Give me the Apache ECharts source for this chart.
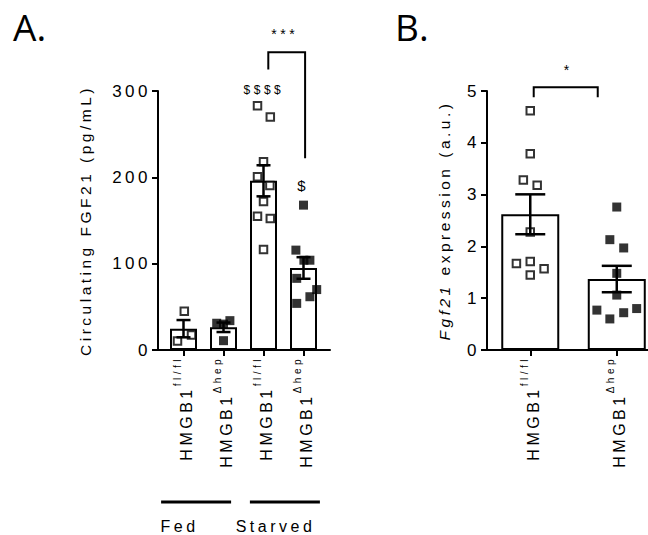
<!DOCTYPE html>
<html>
<head>
<meta charset="utf-8">
<title>Circulating FGF21 / Fgf21 expression</title>
<script src="https://cdn.jsdelivr.net/npm/echarts@6/dist/echarts.min.js"></script>
<style>
  body { margin: 0; background: #fff; }
  /* the figure uses widely tracked Arial text */
  #main text { letter-spacing: 3.5px; }
</style>
</head>
<body>
<div id="main" style="width:648px;height:535px;"></div>
<script>
// ---- panel A : circulating FGF21 (pg/mL)
var baseLabel = 'HMGB1';
var supA = ['fl/fl', 'Δhep', 'fl/fl', 'Δhep'];
var meanA = [24.7, 26.3, 196, 95];
var semA = [10, 5.5, 18, 12.5];
var openA = [true, false, true, false];
var ptsA = [
  [45, 17.4, 10.4],
  [31, 34, 30, 10.8],
  [283, 270, 218, 200.6, 190.6, 172, 155, 152.4, 116.5],
  [167.8, 115.7, 104, 104, 83, 70, 61.7, 54]
];
var jitA = [
  [0.02, 0.2, -0.15],
  [-0.17, 0.16, 0, 0],
  [-0.15, 0.17, 0, -0.15, 0.16, 0, -0.15, 0.17, 0],
  [0, -0.19, 0.01, 0.16, -0.17, 0.33, 0.16, -0.17]
];
var groupsA = [
  { name: 'Fed', from: -0.56, to: 1.19, mid: -0.1 },
  { name: 'Starved', from: 1.66, to: 3.41, mid: 2.3 }
];
var bracketA = [2.12, 3.04, 345, 325, 222];   // x1, x2, top, left end, right end
var marksA = [
  ['***', 2.53, 366, 14],
  ['$$$$', 2.01, 301, 12],
  ['$', 2.99, 191, 15]
];

// ---- panel B : Fgf21 expression (a.u.)
var supB = ['fl/fl', 'Δhep'];
var meanB = [2.62, 1.37];
var semB = [0.385, 0.255];
var openB = [true, false];
var ptsB = [
  [4.62, 3.79, 3.28, 3.18, 2.28, 1.67, 1.71, 1.57, 1.45],
  [2.76, 2.13, 1.97, 1.48, 1.06, 0.77, 0.72, 0.80, 0.60]
];
var jitB = [
  [0, 0, -0.08, 0.08, 0, -0.16, 0, 0.16, 0],
  [0, -0.08, 0.08, 0, 0, -0.23, 0.08, 0.23, -0.08]
];
var bracketB = [0.04, 0.78, 5.07, 4.88, 4.88];
var marksB = [['*', 0.44, 5.4, 14]];

var FONT = 'Liberation Sans, Arial, sans-serif';
var SP = 3.5; // letter spacing set in css, rich tokens get it back as padding

function catLabel(sup) {
  return function (v) {
    var s = sup[Math.round(v)];
    return '{m|' + baseLabel + '}{' + (s.length === 5 ? 'f' : 'h') + '|' + s + '}';
  };
}
var catRich = {
  m: { fontSize: 16, lineHeight: 22, verticalAlign: 'bottom', align: 'left', color: '#000', fontFamily: FONT, padding: [0, 5 * SP, 0, 0] },
  f: { fontSize: 10, lineHeight: 11, verticalAlign: 'top', align: 'left', color: '#000', fontFamily: FONT, padding: [0, 5 * SP, 0, 0] },
  h: { fontSize: 10, lineHeight: 11, verticalAlign: 'top', align: 'left', color: '#000', fontFamily: FONT, padding: [0, 4 * SP, 0, 0] }
};

function xAxisOf(grid, min, max, ticks, sup) {
  return {
    type: 'value', gridIndex: grid, min: min, max: max,
    axisLine: { show: true, onZero: false, lineStyle: { color: '#000', width: 2 } },
    axisTick: { show: true, customValues: ticks, length: 6, lineStyle: { color: '#000', width: 2 } },
    axisLabel: { show: true, customValues: ticks, rotate: 90, margin: 6, formatter: catLabel(sup), rich: catRich },
    splitLine: { show: false }
  };
}

function yAxisOf(grid, max, interval, name, gap, rich) {
  return {
    type: 'value', gridIndex: grid, min: 0, max: max, interval: interval,
    axisLine: { show: true, onZero: false, lineStyle: { color: '#000', width: 2 } },
    axisTick: { show: true, length: 6, lineStyle: { color: '#000', width: 2 } },
    axisLabel: { color: '#000', fontSize: 17, fontFamily: FONT, margin: 7 },
    splitLine: { show: false },
    name: name, nameLocation: 'middle', nameGap: gap,
    nameTextStyle: { color: '#000', fontSize: 15.5, fontFamily: FONT, rich: rich }
  };
}

function barSeries(axis, means, width) {
  return {
    type: 'bar', xAxisIndex: axis, yAxisIndex: axis, barWidth: width, z: 2,
    data: means.map(function (m, i) { return [i, m]; }),
    itemStyle: { color: '#fff', borderColor: '#000', borderWidth: 2 }
  };
}

function dotSeries(axis, pts, jit, open) {
  var out = [];
  pts.forEach(function (vals, i) {
    out.push({
      type: 'scatter', xAxisIndex: axis, yAxisIndex: axis, z: 3,
      symbol: 'rect', symbolSize: open[i] ? 7.5 : 9,
      itemStyle: open[i] ? { color: '#fff', borderColor: '#000', borderWidth: 2 } : { color: '#000' },
      data: vals.map(function (v, k) { return [i + jit[i][k], v]; })
    });
  });
  return out;
}

function errSeries(axis, means, sems, cap) {
  return {
    type: 'custom', xAxisIndex: axis, yAxisIndex: axis, z: 4,
    data: means.map(function (m, i) { return [i, m, sems[i]]; }),
    renderItem: function (params, api) {
      var x = api.value(0), m = api.value(1), s = api.value(2);
      var t = api.coord([x, m + s]), b = api.coord([x, m - s]);
      var st = { stroke: '#000', lineWidth: 2.5 };
      return { type: 'group', children: [
        { type: 'line', shape: { x1: t[0], y1: t[1], x2: b[0], y2: b[1] }, style: st },
        { type: 'line', shape: { x1: t[0] - cap, y1: t[1], x2: t[0] + cap, y2: t[1] }, style: st },
        { type: 'line', shape: { x1: b[0] - cap, y1: b[1], x2: b[0] + cap, y2: b[1] }, style: st }
      ] };
    }
  };
}

function bracketSeries(axis, br) {
  return {
    type: 'custom', xAxisIndex: axis, yAxisIndex: axis, z: 5, clip: false,
    data: [br],
    renderItem: function (params, api) {
      var a = api.coord([api.value(0), api.value(3)]);
      var b = api.coord([api.value(0), api.value(2)]);
      var c = api.coord([api.value(1), api.value(2)]);
      var d = api.coord([api.value(1), api.value(4)]);
      return { type: 'polyline', shape: { points: [a, b, c, d] }, style: { stroke: '#000', lineWidth: 2, fill: null } };
    }
  };
}

function textSeries(axis, marks) {
  return {
    type: 'custom', xAxisIndex: axis, yAxisIndex: axis, z: 5, clip: false,
    data: marks.map(function (m) { return [m[1], m[2], m[3]]; }),
    renderItem: function (params, api) {
      var p = api.coord([api.value(0), api.value(1)]);
      return { type: 'text', x: p[0], y: p[1], style: {
        text: marks[params.dataIndex][0], fontSize: api.value(2), fontFamily: FONT,
        fill: '#000', align: 'center', verticalAlign: 'middle' } };
    }
  };
}

function groupSeries(axis, groups) {
  return {
    type: 'custom', xAxisIndex: axis, yAxisIndex: axis, z: 5, clip: false,
    data: groups.map(function (g) { return [g.from, g.to, g.mid]; }),
    renderItem: function (params, api) {
      var l = api.coord([api.value(0), -176]);
      var r = api.coord([api.value(1), -176]);
      var t = api.coord([api.value(2), -204]);
      return { type: 'group', children: [
        { type: 'line', shape: { x1: l[0], y1: l[1], x2: r[0], y2: r[1] }, style: { stroke: '#000', lineWidth: 3 } },
        { type: 'text', x: t[0], y: t[1], style: { text: groups[params.dataIndex].name, fontSize: 16,
          fontFamily: FONT, fill: '#000', align: 'center', verticalAlign: 'middle' } }
      ] };
    }
  };
}

var chart = echarts.init(document.getElementById('main'), null, { renderer: 'svg' });
var option = {
  animation: false,
  backgroundColor: '#fff',
  textStyle: { fontFamily: FONT, color: '#000' },
  title: [
    { text: 'A.', left: 13, top: 8, padding: 0, textStyle: { fontFamily: 'Open Sans', fontSize: 37, fontWeight: 'normal', color: '#000' } },
    { text: 'B.', left: 395, top: 8, padding: 0, textStyle: { fontFamily: 'Open Sans', fontSize: 37, fontWeight: 'normal', color: '#000' } }
  ],
  grid: [
    { left: 158, top: 91, width: 172, height: 259, outerBoundsMode: 'none' },
    { left: 487, top: 91, width: 161, height: 259, outerBoundsMode: 'none' }
  ],
  xAxis: [
    xAxisOf(0, -0.6375, 3.6625, [0, 1, 2, 3], supA),
    xAxisOf(1, -0.5, 1.361, [0, 1], supB)
  ],
  yAxis: [
    yAxisOf(0, 300, 100, 'Circulating FGF21 (pg/mL)', 65),
    yAxisOf(1, 5, 1, '{i|Fgf21}{n| expression (a.u.)}', 35, {
      i: { fontSize: 15.5, fontStyle: 'italic', align: 'left', fontFamily: FONT, color: '#000', padding: [0, 5 * SP, 0, 0] },
      n: { fontSize: 15.5, align: 'left', fontFamily: FONT, color: '#000', padding: [0, 18 * SP, 0, 0] }
    })
  ],
  series: [].concat(
    [barSeries(0, meanA, 27)],
    dotSeries(0, ptsA, jitA, openA),
    [errSeries(0, meanA, semA, 7), bracketSeries(0, bracketA), textSeries(0, marksA), groupSeries(0, groupsA)],
    [barSeries(1, meanB, 58)],
    dotSeries(1, ptsB, jitB, openB),
    [errSeries(1, meanB, semB, 15), bracketSeries(1, bracketB), textSeries(1, marksB)]
  )
};
chart.setOption(option);

// panel letters are not tracked
function untrack() {
  document.querySelectorAll('#main text').forEach(function (t) {
    if (t.textContent === 'A.' || t.textContent === 'B.') t.style.letterSpacing = '0px';
  });
}
chart.on('finished', untrack);
untrack();
</script>
</body>
</html>
